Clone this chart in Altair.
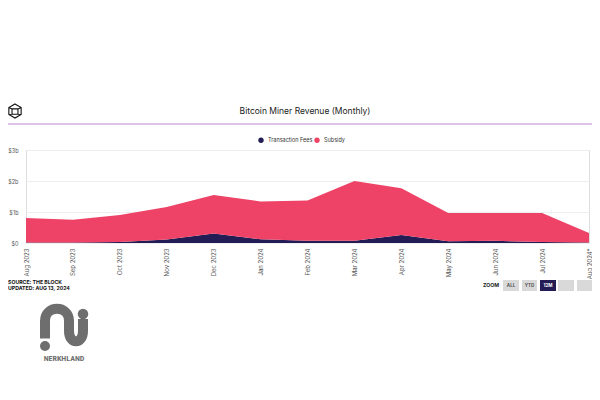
import altair as alt
import pandas as pd

months = ["Aug 2023", "Sep 2023", "Oct 2023", "Nov 2023", "Dec 2023", "Jan 2024",
          "Feb 2024", "Mar 2024", "Apr 2024", "May 2024", "Jun 2024", "Jul 2024", "Aug 2024*"]
fees = [0.02, 0.02, 0.03, 0.11, 0.31, 0.12, 0.07, 0.07, 0.26, 0.06, 0.07, 0.03, 0.02]
total = [0.81, 0.75, 0.90, 1.16, 1.55, 1.34, 1.37, 2.00, 1.77, 0.97, 0.97, 0.97, 0.32]
subsidy = [round(t - f, 3) for t, f in zip(total, fees)]
series = ["Transaction Fees", "Subsidy"]
colors = ["#241d55", "#ee4266"]

rows = []
for i, m in enumerate(months):
    rows.append({"month": m, "series": series[0], "value": fees[i], "ord": 0})
    rows.append({"month": m, "series": series[1], "value": subsidy[i], "ord": 1})
df = pd.DataFrame(rows)

W, H = 563, 93
FONT = "Inter"

area = alt.Chart(df).mark_area(opacity=1, line=False).encode(
    x=alt.X("month:N", sort=months, scale=alt.Scale(type="point", padding=0),
            axis=alt.Axis(title=None, labelAngle=-90, labelFontSize=6, labelColor="#555",
                          ticks=False, domain=False, grid=False, labelPadding=5,
                          labelFont=FONT)),
    y=alt.Y("value:Q", stack="zero", scale=alt.Scale(domain=[0, 3], nice=False),
            axis=alt.Axis(title=None, values=[0, 1, 2, 3], labelFontSize=5.5, labelColor="#555",
                          labelExpr="datum.value == 0 ? '$0' : '$' + datum.value + 'b'",
                          ticks=False, domain=False, grid=True, gridColor="#eeeeee",
                          labelPadding=8, labelFont=FONT)),
    color=alt.Color("series:N", scale=alt.Scale(domain=series, range=colors),
                    legend=alt.Legend(title=None, orient="none", legendX=232, legendY=-13,
                                      direction="horizontal", symbolType="circle",
                                      symbolSize=28, labelFontSize=5.5, labelColor="#333",
                                      columnPadding=1, labelFont=FONT, symbolStrokeWidth=0)),
    order=alt.Order("ord:Q"),
)

def txt(s, x, y, size=6, color="#222", weight="normal", align="left", font=FONT):
    return alt.Chart(pd.DataFrame({"t": [s]})).mark_text(
        fontSize=size, color=color, fontWeight=weight, align=align, baseline="middle",
        font=font
    ).encode(text="t:N", x=alt.value(x), y=alt.value(y))

title = txt("Bitcoin Miner Revenue (Monthly)", 279, -39, size=8.5, color="#222", align="center")

purple = alt.Chart(pd.DataFrame({"a": [0]})).mark_rule(color="#b987d2", strokeWidth=1.2).encode(
    x=alt.value(-18), x2=alt.value(566), y=alt.value(-26))

hex_path = ("M0,-1 L0.87,-0.5 L0.87,0.5 L0,1 L-0.87,0.5 L-0.87,-0.5 Z "
            "M-0.42,-0.3 L0.42,-0.3 L0.42,0.45 L-0.42,0.45 Z "
            "M-0.87,-0.5 L-0.42,-0.3 M0.87,-0.5 L0.42,-0.3 M-0.87,0.5 L-0.42,0.45 M0.87,0.5 L0.42,0.45")
icon = alt.Chart(pd.DataFrame({"a": [0]})).mark_point(
    shape=hex_path, filled=False, stroke="#111", strokeWidth=1.1, size=200, opacity=1
).encode(x=alt.value(-11), y=alt.value(-39))

src1 = txt("SOURCE: THE BLOCK", -18, 132, size=5.2, weight="bold", color="#111")
src2 = txt("UPDATED: AUG 13, 2024", -18, 138, size=5.2, weight="bold", color="#111")

zoom_t = txt("ZOOM", 465, 135, size=5.2, weight="bold", color="#222", align="center")
buttons = []
for (x0, x1, lab, dark) in [(477, 493, "ALL", False), (496, 511, "YTD", False),
                            (514, 530, "12M", True), (532, 548, "", False), (551, 566, "", False)]:
    buttons.append(alt.Chart(pd.DataFrame({"a": [0]})).mark_rect(
        color="#241d55" if dark else "#d9d9d9").encode(
        x=alt.value(x0), x2=alt.value(x1), y=alt.value(130), y2=alt.value(141)))
    if lab:
        buttons.append(txt(lab, (x0 + x1) / 2, 135.5, size=4.5, weight="bold",
                           color="#fff" if dark else "#555", align="center"))

# watermark logo
swoosh = ("M-0.76,0.5 L-0.76,-0.2 C-0.76,-0.85 0.2,-0.85 0.2,-0.2 L0.2,0.2 "
          "C0.2,0.75 0.76,0.75 0.76,0.2 L0.76,-0.28")
wm = alt.Chart(pd.DataFrame({"a": [0]})).mark_point(
    shape=swoosh, filled=False, stroke="#6e6e6e", strokeWidth=10, size=2500, opacity=1,
    strokeCap="butt"
).encode(x=alt.value(38), y=alt.value(176))
dot1 = alt.Chart(pd.DataFrame({"a": [0]})).mark_circle(color="#6e6e6e", size=110, opacity=1).encode(
    x=alt.value(57), y=alt.value(164))
dot2 = alt.Chart(pd.DataFrame({"a": [0]})).mark_circle(color="#6e6e6e", size=100, opacity=1).encode(
    x=alt.value(19), y=alt.value(196))
wm_t = txt("NERKHLAND", 38, 209, size=8, weight="bold", color="#6e6e6e", align="center",
           font="Roboto Condensed, Liberation Sans Narrow, Roboto")

chart = alt.layer(area, title, purple, icon, src1, src2, zoom_t, *buttons, wm, dot1, dot2, wm_t).properties(
    width=W, height=H,
    autosize=alt.AutoSizeParams(type="none"),
    padding={"left": 18, "top": 142, "right": 3, "bottom": 148},
).configure_view(stroke="transparent", strokeWidth=0).configure(background="white")

chart.save("out.html", embed_options={"renderer": "svg", "actions": False})
